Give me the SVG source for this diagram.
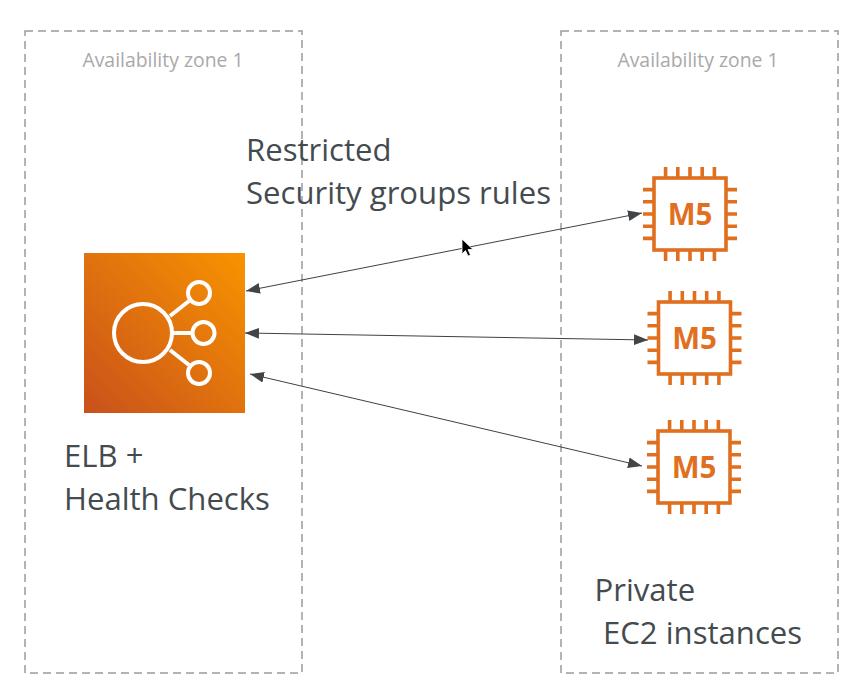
<svg xmlns="http://www.w3.org/2000/svg" xmlns:xlink="http://www.w3.org/1999/xlink" width="867" height="691" viewBox="0 0 867 691">
<style>
.zone{fill:none;stroke:#9a9a9a;stroke-width:1.5;stroke-dasharray:8 5}
.zl{font:19.4px "Open Sans",sans-serif;fill:#a9a9a9;text-anchor:middle}
.t{font:31.1px "Open Sans",sans-serif;fill:#444b4f}
.c{stroke:#414141;stroke-width:1;fill:none;marker-start:url(#a);marker-end:url(#a)}
.chip{fill:none;stroke:#e0701f;stroke-width:3.6}
.pin{fill:none;stroke:#e0701f;stroke-width:3.6}
.m5{font:bold 29.500px "Open Sans",sans-serif;fill:#e0701f;text-anchor:middle}
.w{fill:none;stroke:#fff;stroke-width:4}
</style>
<defs>
<marker id="a" markerUnits="userSpaceOnUse" markerWidth="14" markerHeight="12" refX="13" refY="5" orient="auto-start-reverse" viewBox="0 0 13 10"><path d="M0 0L13 5L0 10Z" fill="#414548"/></marker>
<linearGradient id="g" x1="0" y1="1" x2="1" y2="0"><stop offset="0" stop-color="#c8511b"/><stop offset="1" stop-color="#f99300"/></linearGradient>
<g id="chip">
<rect class="chip" x="-36" y="-36" width="72" height="72"/>
<path class="pin" d="M-24.400-47V-36M-12.200-47V-36M0-47V-36M12.200-47V-36M24.400-47V-36M-24.400 36V47M-12.200 36V47M0 36V47M12.200 36V47M24.400 36V47M-47-24.400H-36M-47-12.200H-36M-47 0H-36M-47 12.200H-36M-47 24.400H-36M36-24.400H47M36-12.200H47M36 0H47M36 12.200H47M36 24.400H47"/>
<text class="m5" y="10.800">M5</text>
</g>
</defs>
<rect width="867" height="691" fill="#fff"/>
<g id="zone-1"><rect class="zone" x="25" y="31" width="277" height="642"/><text class="zl" x="163" y="67">Availability zone 1</text></g>
<g id="zone-2"><rect class="zone" x="561" y="31" width="277" height="642"/><text class="zl" x="698" y="67">Availability zone 1</text></g>
<g id="connectors">
<line class="c" x1="246" y1="291" x2="642" y2="213"/>
<line class="c" x1="245" y1="333" x2="648" y2="340"/>
<line class="c" x1="250" y1="374" x2="642" y2="466"/>
</g>
<g id="elb">
<rect x="84" y="253" width="161" height="160" fill="url(#g)"/>
<circle class="w" cx="143" cy="333" r="29"/>
<circle class="w" cx="199" cy="293" r="11"/><circle class="w" cx="203.500" cy="333" r="11"/><circle class="w" cx="199" cy="373" r="11"/>
<path class="w" d="M170 316L189 301M173 333H192.500M170 350L189 365"/>
<text class="t" x="64" y="467">ELB +</text>
<text class="t" x="64" y="510">Health Checks</text>
</g>
<g id="m5-1"><use xlink:href="#chip" href="#chip" x="690" y="214"/></g>
<g id="m5-2"><use xlink:href="#chip" href="#chip" x="694.500" y="338"/></g>
<g id="m5-3"><use xlink:href="#chip" href="#chip" x="694" y="467"/></g>
<g id="label-restricted"><text class="t" x="246" y="161">Restricted</text><text class="t" x="246" y="204">Security groups rules</text></g>
<g id="label-private"><text class="t" x="594.500" y="601">Private</text><text class="t" x="603" y="644">EC2 instances</text></g>
<path d="M462 239V254L465.500 250.500L468 256L470.500 255L468 249.500H473Z" fill="#000" stroke="#fff" stroke-width=".8"/>
</svg>
